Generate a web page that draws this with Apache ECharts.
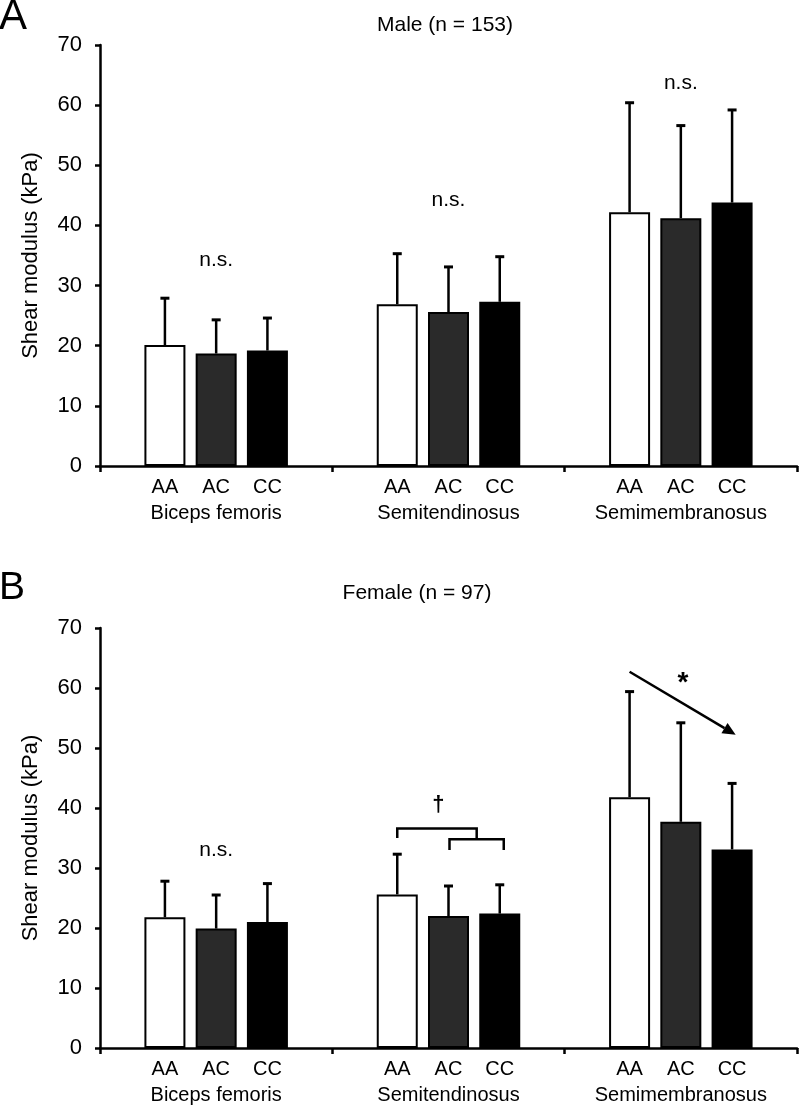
<!DOCTYPE html>
<html>
<head>
<meta charset="utf-8">
<script src="https://cdn.jsdelivr.net/npm/echarts@6/dist/echarts.min.js"></script>
<style>
html, body { margin: 0; padding: 0; background: #fff; }
#chart { width: 800px; height: 1106px; }
</style>
</head>
<body>
<div id="chart"></div>
<script>
// categories
var muscles = ['Biceps femoris', 'Semitendinosus', 'Semimembranosus'];
var genotypes = ['AA', 'AC', 'CC'];

// male means and SD (kPa), one value per muscle
var maleAA = [20.1, 26.9, 42.2];
var maleAC = [18.7, 25.6, 41.2];
var maleCC = [19.2, 27.3, 43.8];
var maleAASd = [7.8, 8.4, 18.2];
var maleACSd = [5.6, 7.5, 15.4];
var maleCCSd = [5.4, 7.5, 15.4];

// female means and SD (kPa)
var femaleAA = [21.8, 25.6, 41.8];
var femaleAC = [19.9, 22.0, 37.7];
var femaleCC = [21.0, 22.4, 33.1];
var femaleAASd = [6.0, 6.7, 17.6];
var femaleACSd = [5.6, 5.0, 16.5];
var femaleCCSd = [6.4, 4.8, 11.0];

// annotation heights (kPa)
var maleNs = [34.3, 44.2, 63.7];
var femaleNs = [33.0, null, null];
var femaleBracket = [36.6, 35.0, 34.8, 33.0];  // top line, top left leg end, lower line, lower legs end
var femaleDagger = 40.5;
var femaleArrow = [62.7, 52.2];
var femaleStar = 60.8;

var BAR_W = 41;
var BAR_STEP = 51.25;
var FONT = '"Liberation Sans", Arial, sans-serif';
var fills = ['#ffffff', '#2a2a2a', '#000000'];

var chart = echarts.init(document.getElementById('chart'));

function barSeries(idx, values, k) {
    return {
        type: 'bar',
        xAxisIndex: idx,
        yAxisIndex: idx,
        barWidth: BAR_W,
        barGap: '25%',
        data: values,
        itemStyle: { color: fills[k], borderColor: '#000', borderWidth: 2 },
        label: {
            show: true,
            position: 'bottom',
            distance: 11,
            formatter: genotypes[k],
            fontSize: 20,
            fontFamily: FONT,
            color: '#000'
        },
        emphasis: { disabled: true },
        z: 2
    };
}

function errorSeries(idx, means, sds) {
    var data = [];
    for (var g = 0; g < muscles.length; g++) {
        for (var k = 0; k < 3; k++) {
            data.push([g, k, means[k][g], means[k][g] + sds[k][g]]);
        }
    }
    return {
        type: 'custom',
        xAxisIndex: idx,
        yAxisIndex: idx,
        encode: { x: 0, y: [2, 3] },
        z: 5,
        silent: true,
        renderItem: function (params, api) {
            var base = api.coord([api.value(0), api.value(2)]);
            var top = api.coord([api.value(0), api.value(3)]);
            var x = base[0] + (api.value(1) - 1) * BAR_STEP;
            return {
                type: 'group',
                children: [
                    { type: 'line', shape: { x1: x, y1: base[1], x2: x, y2: top[1] }, style: { stroke: '#000', lineWidth: 2.5 } },
                    { type: 'line', shape: { x1: x - 4.5, y1: top[1], x2: x + 4.5, y2: top[1] }, style: { stroke: '#000', lineWidth: 3 } }
                ]
            };
        },
        data: data
    };
}

function textSeries(idx, items) {
    return {
        type: 'custom',
        xAxisIndex: idx,
        yAxisIndex: idx,
        z: 6,
        silent: true,
        renderItem: function (params, api) {
            var it = items[params.dataIndex];
            var p = api.coord([it[0], it[1]]);
            return {
                type: 'text',
                x: p[0] + it[2] * BAR_STEP,
                y: p[1],
                style: {
                    text: it[3],
                    font: it[4] + ' ' + FONT,
                    fill: '#000',
                    align: 'center',
                    verticalAlign: 'middle'
                }
            };
        },
        data: items.map(function (it) { return [it[0], it[1]]; })
    };
}

// bracket for semitendinosus (female)
function bracketSeries(idx) {
    return {
        type: 'custom',
        xAxisIndex: idx,
        yAxisIndex: idx,
        z: 6,
        silent: true,
        renderItem: function (params, api) {
            var c = api.coord([1, femaleBracket[0]])[0];
            var y = femaleBracket.map(function (v) { return api.coord([1, v])[1]; });
            var xAA = c - BAR_STEP, xAC = c, xCC = c + BAR_STEP, xMid = c + 0.55 * BAR_STEP;
            var st = { stroke: '#000', lineWidth: 2.5, fill: null };
            return {
                type: 'group',
                children: [
                    { type: 'polyline', shape: { points: [[xAA, y[1]], [xAA, y[0]], [xMid, y[0]], [xMid, y[2]]] }, style: st },
                    { type: 'polyline', shape: { points: [[xAC + 1, y[3]], [xAC + 1, y[2]], [xCC + 4, y[2]], [xCC + 4, y[3]]] }, style: st }
                ]
            };
        },
        data: [[1, femaleBracket[0]]]
    };
}

// trend arrow for semimembranosus (female)
function arrowSeries(idx) {
    return {
        type: 'custom',
        xAxisIndex: idx,
        yAxisIndex: idx,
        z: 6,
        silent: true,
        renderItem: function (params, api) {
            var c = api.coord([2, femaleArrow[0]])[0];
            var x1 = c - BAR_STEP, y1 = api.coord([2, femaleArrow[0]])[1];
            var x2 = c + 1.07 * BAR_STEP, y2 = api.coord([2, femaleArrow[1]])[1];
            var dx = x2 - x1, dy = y2 - y1, len = Math.sqrt(dx * dx + dy * dy);
            var ux = dx / len, uy = dy / len, L = 13, W = 6;
            var bx = x2 - ux * L, by = y2 - uy * L;
            return {
                type: 'group',
                children: [
                    { type: 'line', shape: { x1: x1, y1: y1, x2: bx, y2: by }, style: { stroke: '#000', lineWidth: 2.5 } },
                    { type: 'polygon', shape: { points: [[x2, y2], [bx - uy * W, by + ux * W], [bx + uy * W, by - ux * W]] }, style: { fill: '#000' } }
                ]
            };
        },
        data: [[2, femaleArrow[0]]]
    };
}

function xAxisOpt(idx) {
    return {
        type: 'category',
        gridIndex: idx,
        data: muscles,
        axisLine: { lineStyle: { color: '#000', width: 2.5 } },
        axisTick: { show: true, length: 6, lineStyle: { color: '#000', width: 2.5 } },
        axisLabel: { margin: 37, fontSize: 20, fontFamily: FONT, color: '#000' },
        splitLine: { show: false }
    };
}

function yAxisOpt(idx) {
    return {
        type: 'value',
        gridIndex: idx,
        min: 0,
        max: 70,
        interval: 10,
        name: 'Shear modulus (kPa)',
        nameLocation: 'middle',
        nameGap: 58,
        nameTextStyle: { fontSize: 22, fontFamily: FONT, color: '#000' },
        axisLine: { show: true, lineStyle: { color: '#000', width: 2.5 } },
        axisTick: { show: true, length: 5, lineStyle: { color: '#000', width: 2.5 } },
        axisLabel: { margin: 18, fontSize: 22, fontFamily: FONT, color: '#000' },
        splitLine: { show: false }
    };
}

var maleNsItems = [], femaleNsItems = [];
maleNs.forEach(function (v, g) { if (v != null) maleNsItems.push([g, v, 0, 'n.s.', '21px']); });
femaleNs.forEach(function (v, g) { if (v != null) femaleNsItems.push([g, v, 0, 'n.s.', '21px']); });
femaleNsItems.push([1, femaleDagger, -0.2, '\u2020', 'bold 22px']);
femaleNsItems.push([2, femaleStar, 0.04, '*', 'bold 28px']);

var option = {
    animation: false,
    backgroundColor: '#fff',
    graphic: [
        { type: 'text', x: -1, y: 17, style: { text: 'A', font: '42px ' + FONT, fill: '#000', verticalAlign: 'middle' } },
        { type: 'text', x: -1, y: 588, style: { text: 'B', font: '39px ' + FONT, fill: '#000', verticalAlign: 'middle' } },
        { type: 'text', x: 445, y: 25, style: { text: 'Male (n = 153)', font: '21px ' + FONT, fill: '#000', align: 'center', verticalAlign: 'middle' } },
        { type: 'text', x: 417, y: 593, style: { text: 'Female (n = 97)', font: '21px ' + FONT, fill: '#000', align: 'center', verticalAlign: 'middle' } }
    ],
    grid: [
        { left: 100, top: 45, width: 697, height: 421 },
        { left: 100, top: 628, width: 697, height: 420 }
    ],
    xAxis: [xAxisOpt(0), xAxisOpt(1)],
    yAxis: [yAxisOpt(0), yAxisOpt(1)],
    series: [
        barSeries(0, maleAA, 0),
        barSeries(0, maleAC, 1),
        barSeries(0, maleCC, 2),
        errorSeries(0, [maleAA, maleAC, maleCC], [maleAASd, maleACSd, maleCCSd]),
        textSeries(0, maleNsItems),
        barSeries(1, femaleAA, 0),
        barSeries(1, femaleAC, 1),
        barSeries(1, femaleCC, 2),
        errorSeries(1, [femaleAA, femaleAC, femaleCC], [femaleAASd, femaleACSd, femaleCCSd]),
        textSeries(1, femaleNsItems),
        bracketSeries(1),
        arrowSeries(1)
    ]
};
chart.setOption(option);
</script>
</body>
</html>
